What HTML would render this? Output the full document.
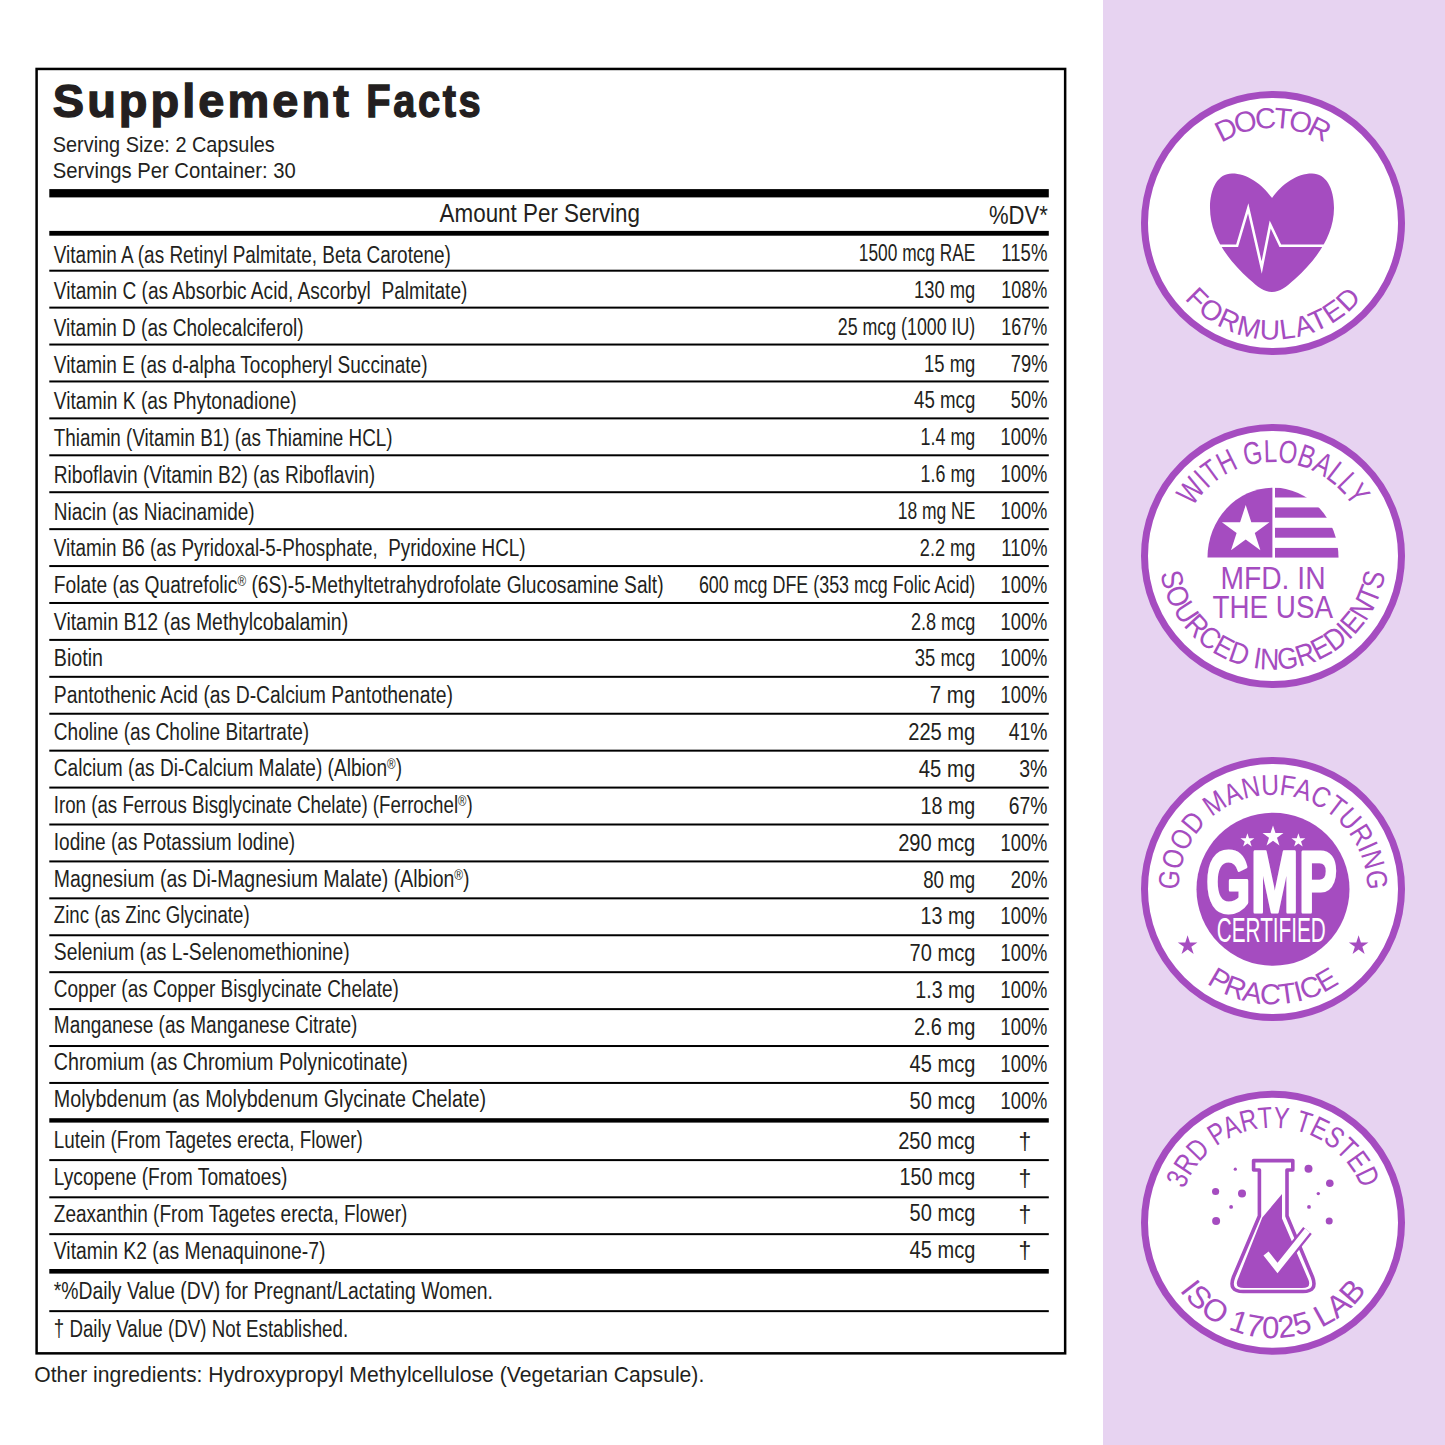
<!DOCTYPE html>
<html><head><meta charset="utf-8"><style>
html,body{margin:0;padding:0;background:#fff;}
body{width:1445px;height:1445px;overflow:hidden;position:relative;}
svg{position:absolute;left:0;top:0;}
text{font-family:"Liberation Sans",sans-serif;}
</style></head><body>
<svg width="1445" height="1445" viewBox="0 0 1445 1445">
<defs><path id="p1" d="M 1178 223 A 95 95 0 0 1 1368 223"/>
<path id="p2" d="M 1156.5 223 A 116.5 116.5 0 0 0 1389.5 223"/>
<clipPath id="hc"><rect x="1219" y="150" width="105" height="150"/></clipPath>
<path id="p3" d="M 1179 556 A 94 94 0 0 1 1367 556"/>
<path id="p4" d="M 1159.4 556 A 113.6 113.6 0 0 0 1386.6 556"/>
<clipPath id="fl"><ellipse cx="1273" cy="557.6" rx="65.5" ry="70"/></clipPath>
<path id="p5" d="M 1178.8 889 A 94.2 94.2 0 0 1 1367.2 889"/>
<path id="p6" d="M 1157.6 889 A 115.4 115.4 0 0 0 1388.4 889"/>
<path id="p7" d="M 1178 1222.7 A 95 95 0 0 1 1368 1222.7"/>
<path id="p8" d="M 1157.5 1222.7 A 115.5 115.5 0 0 0 1388.5 1222.7"/></defs>
<rect x="1103" y="0" width="342" height="1445" fill="#e7d3f1"/>
<rect x="36.6" y="68.95" width="1028.55" height="1284.4" fill="none" stroke="#000" stroke-width="2.5"/>
<g font-size="46.5" font-weight="bold" fill="#231f20" stroke="#231f20" stroke-width="1.3" letter-spacing="3"><text x="52.8" y="117.3" textLength="299" lengthAdjust="spacingAndGlyphs">Supplement</text><text x="366.3" y="117.3" textLength="117" lengthAdjust="spacingAndGlyphs">Facts</text></g>
<g fill="#231f20" font-size="22">
<text x="52.8" y="152.4" textLength="222" lengthAdjust="spacingAndGlyphs">Serving Size: 2 Capsules</text>
<text x="52.8" y="177.6" textLength="243" lengthAdjust="spacingAndGlyphs">Servings Per Container: 30</text>
</g>
<g fill="#231f20" font-size="25.5">
<text x="439.6" y="221.6" textLength="200.4" lengthAdjust="spacingAndGlyphs">Amount Per Serving</text>
<text x="989" y="224" textLength="58.8" lengthAdjust="spacingAndGlyphs">%DV*</text>
</g>
<g fill="#000"><rect x="49.3" y="189.10" width="999.5" height="8.3"/>
<rect x="49.3" y="230.90" width="999.5" height="4.8"/>
<rect x="49.3" y="269.70" width="999.5" height="2"/>
<rect x="49.3" y="306.62" width="999.5" height="2"/>
<rect x="49.3" y="343.54" width="999.5" height="2"/>
<rect x="49.3" y="380.46" width="999.5" height="2"/>
<rect x="49.3" y="417.38" width="999.5" height="2"/>
<rect x="49.3" y="454.30" width="999.5" height="2"/>
<rect x="49.3" y="491.22" width="999.5" height="2"/>
<rect x="49.3" y="528.14" width="999.5" height="2"/>
<rect x="49.3" y="565.06" width="999.5" height="2"/>
<rect x="49.3" y="601.98" width="999.5" height="2"/>
<rect x="49.3" y="638.90" width="999.5" height="2"/>
<rect x="49.3" y="675.82" width="999.5" height="2"/>
<rect x="49.3" y="712.74" width="999.5" height="2"/>
<rect x="49.3" y="749.66" width="999.5" height="2"/>
<rect x="49.3" y="786.58" width="999.5" height="2"/>
<rect x="49.3" y="823.50" width="999.5" height="2"/>
<rect x="49.3" y="860.42" width="999.5" height="2"/>
<rect x="49.3" y="897.34" width="999.5" height="2"/>
<rect x="49.3" y="934.26" width="999.5" height="2"/>
<rect x="49.3" y="971.18" width="999.5" height="2"/>
<rect x="49.3" y="1008.10" width="999.5" height="2"/>
<rect x="49.3" y="1045.02" width="999.5" height="2"/>
<rect x="49.3" y="1081.94" width="999.5" height="2"/>
<rect x="49.3" y="1118.20" width="999.5" height="4.4"/>
<rect x="49.3" y="1159.10" width="999.5" height="2"/>
<rect x="49.3" y="1196.30" width="999.5" height="2"/>
<rect x="49.3" y="1233.15" width="999.5" height="2"/>
<rect x="49.3" y="1269.00" width="999.5" height="4.6"/>
<rect x="49.3" y="1310.15" width="999.5" height="2"/></g>
<g fill="#231f20" font-size="23">
<text x="53.8" y="262.6" textLength="397.1" lengthAdjust="spacingAndGlyphs">Vitamin A (as Retinyl Palmitate, Beta Carotene)</text>
<text x="858.8" y="260.9" textLength="116.5" lengthAdjust="spacingAndGlyphs">1500 mcg RAE</text>
<text x="1001.3" y="260.9" textLength="46.1" lengthAdjust="spacingAndGlyphs">115%</text>
<text x="53.8" y="299.3" textLength="413.6" lengthAdjust="spacingAndGlyphs">Vitamin C (as Absorbic Acid, Ascorbyl  Palmitate)</text>
<text x="914" y="297.8" textLength="61.3" lengthAdjust="spacingAndGlyphs">130 mg</text>
<text x="1001.3" y="297.8" textLength="46.1" lengthAdjust="spacingAndGlyphs">108%</text>
<text x="53.8" y="336.0" textLength="249.8" lengthAdjust="spacingAndGlyphs">Vitamin D (as Cholecalciferol)</text>
<text x="837.8" y="334.6" textLength="137.5" lengthAdjust="spacingAndGlyphs">25 mcg (1000 IU)</text>
<text x="1001.3" y="334.6" textLength="46.1" lengthAdjust="spacingAndGlyphs">167%</text>
<text x="53.8" y="372.7" textLength="373.7" lengthAdjust="spacingAndGlyphs">Vitamin E (as d-alpha Tocopheryl Succinate)</text>
<text x="924" y="371.5" textLength="51.3" lengthAdjust="spacingAndGlyphs">15 mg</text>
<text x="1010.8" y="371.5" textLength="36.6" lengthAdjust="spacingAndGlyphs">79%</text>
<text x="53.8" y="409.4" textLength="242.9" lengthAdjust="spacingAndGlyphs">Vitamin K (as Phytonadione)</text>
<text x="914" y="408.3" textLength="61.3" lengthAdjust="spacingAndGlyphs">45 mcg</text>
<text x="1010.8" y="408.3" textLength="36.6" lengthAdjust="spacingAndGlyphs">50%</text>
<text x="53.8" y="446.1" textLength="338.8" lengthAdjust="spacingAndGlyphs">Thiamin (Vitamin B1) (as Thiamine HCL)</text>
<text x="920.6" y="445.2" textLength="54.7" lengthAdjust="spacingAndGlyphs">1.4 mg</text>
<text x="1000.5" y="445.2" textLength="46.9" lengthAdjust="spacingAndGlyphs">100%</text>
<text x="53.8" y="482.8" textLength="321.4" lengthAdjust="spacingAndGlyphs">Riboflavin (Vitamin B2) (as Riboflavin)</text>
<text x="920.6" y="482.1" textLength="54.7" lengthAdjust="spacingAndGlyphs">1.6 mg</text>
<text x="1000.5" y="482.1" textLength="46.9" lengthAdjust="spacingAndGlyphs">100%</text>
<text x="53.8" y="519.5" textLength="200.9" lengthAdjust="spacingAndGlyphs">Niacin (as Niacinamide)</text>
<text x="897.7" y="518.9" textLength="77.6" lengthAdjust="spacingAndGlyphs">18 mg NE</text>
<text x="1000.5" y="518.9" textLength="46.9" lengthAdjust="spacingAndGlyphs">100%</text>
<text x="53.8" y="556.2" textLength="471.8" lengthAdjust="spacingAndGlyphs">Vitamin B6 (as Pyridoxal-5-Phosphate,  Pyridoxine HCL)</text>
<text x="919.8" y="555.8" textLength="55.5" lengthAdjust="spacingAndGlyphs">2.2 mg</text>
<text x="1001.3" y="555.8" textLength="46.1" lengthAdjust="spacingAndGlyphs">110%</text>
<text x="53.8" y="592.9" textLength="609.8" lengthAdjust="spacingAndGlyphs">Folate (as Quatrefolic<tspan font-size="14" dy="-7">®</tspan><tspan dy="7"> (6S)-5-Methyltetrahydrofolate Glucosamine Salt)</tspan></text>
<text x="698.9" y="592.6" textLength="276.4" lengthAdjust="spacingAndGlyphs">600 mcg DFE (353 mcg Folic Acid)</text>
<text x="1000.5" y="592.6" textLength="46.9" lengthAdjust="spacingAndGlyphs">100%</text>
<text x="53.8" y="629.6" textLength="294.3" lengthAdjust="spacingAndGlyphs">Vitamin B12 (as Methylcobalamin)</text>
<text x="910.9" y="629.5" textLength="64.4" lengthAdjust="spacingAndGlyphs">2.8 mcg</text>
<text x="1000.5" y="629.5" textLength="46.9" lengthAdjust="spacingAndGlyphs">100%</text>
<text x="53.8" y="666.3" textLength="49.2" lengthAdjust="spacingAndGlyphs">Biotin</text>
<text x="914.8" y="666.4" textLength="60.5" lengthAdjust="spacingAndGlyphs">35 mcg</text>
<text x="1000.5" y="666.4" textLength="46.9" lengthAdjust="spacingAndGlyphs">100%</text>
<text x="53.8" y="703.0" textLength="399.2" lengthAdjust="spacingAndGlyphs">Pantothenic Acid (as D-Calcium Pantothenate)</text>
<text x="929.8" y="703.2" textLength="45.5" lengthAdjust="spacingAndGlyphs">7 mg</text>
<text x="1000.5" y="703.2" textLength="46.9" lengthAdjust="spacingAndGlyphs">100%</text>
<text x="53.8" y="739.7" textLength="255.4" lengthAdjust="spacingAndGlyphs">Choline (as Choline Bitartrate)</text>
<text x="908.2" y="740.1" textLength="67.1" lengthAdjust="spacingAndGlyphs">225 mg</text>
<text x="1008.7" y="740.1" textLength="38.7" lengthAdjust="spacingAndGlyphs">41%</text>
<text x="53.8" y="776.4" textLength="348.2" lengthAdjust="spacingAndGlyphs">Calcium (as Di-Calcium Malate) (Albion<tspan font-size="14" dy="-7">®</tspan><tspan dy="7">)</tspan></text>
<text x="918.8" y="776.9" textLength="56.5" lengthAdjust="spacingAndGlyphs">45 mg</text>
<text x="1019.2" y="776.9" textLength="28.2" lengthAdjust="spacingAndGlyphs">3%</text>
<text x="53.8" y="813.1" textLength="418.9" lengthAdjust="spacingAndGlyphs">Iron (as Ferrous Bisglycinate Chelate) (Ferrochel<tspan font-size="14" dy="-7">®</tspan><tspan dy="7">)</tspan></text>
<text x="920.6" y="813.8" textLength="54.7" lengthAdjust="spacingAndGlyphs">18 mg</text>
<text x="1008.7" y="813.8" textLength="38.7" lengthAdjust="spacingAndGlyphs">67%</text>
<text x="53.8" y="849.8" textLength="241.4" lengthAdjust="spacingAndGlyphs">Iodine (as Potassium Iodine)</text>
<text x="898.2" y="850.7" textLength="77.1" lengthAdjust="spacingAndGlyphs">290 mcg</text>
<text x="1000.5" y="850.7" textLength="46.9" lengthAdjust="spacingAndGlyphs">100%</text>
<text x="53.8" y="886.5" textLength="415.8" lengthAdjust="spacingAndGlyphs">Magnesium (as Di-Magnesium Malate) (Albion<tspan font-size="14" dy="-7">®</tspan><tspan dy="7">)</tspan></text>
<text x="923.2" y="887.5" textLength="52.1" lengthAdjust="spacingAndGlyphs">80 mg</text>
<text x="1010.8" y="887.5" textLength="36.6" lengthAdjust="spacingAndGlyphs">20%</text>
<text x="53.8" y="923.2" textLength="195.8" lengthAdjust="spacingAndGlyphs">Zinc (as Zinc Glycinate)</text>
<text x="920.6" y="924.4" textLength="54.7" lengthAdjust="spacingAndGlyphs">13 mg</text>
<text x="1000.5" y="924.4" textLength="46.9" lengthAdjust="spacingAndGlyphs">100%</text>
<text x="53.8" y="959.9" textLength="295.9" lengthAdjust="spacingAndGlyphs">Selenium (as L-Selenomethionine)</text>
<text x="909.6" y="961.2" textLength="65.7" lengthAdjust="spacingAndGlyphs">70 mcg</text>
<text x="1000.5" y="961.2" textLength="46.9" lengthAdjust="spacingAndGlyphs">100%</text>
<text x="53.8" y="996.6" textLength="345.1" lengthAdjust="spacingAndGlyphs">Copper (as Copper Bisglycinate Chelate)</text>
<text x="915.3" y="998.1" textLength="60.0" lengthAdjust="spacingAndGlyphs">1.3 mg</text>
<text x="1000.5" y="998.1" textLength="46.9" lengthAdjust="spacingAndGlyphs">100%</text>
<text x="53.8" y="1033.3" textLength="303.6" lengthAdjust="spacingAndGlyphs">Manganese (as Manganese Citrate)</text>
<text x="914" y="1035.0" textLength="61.3" lengthAdjust="spacingAndGlyphs">2.6 mg</text>
<text x="1000.5" y="1035.0" textLength="46.9" lengthAdjust="spacingAndGlyphs">100%</text>
<text x="53.8" y="1070.0" textLength="354.1" lengthAdjust="spacingAndGlyphs">Chromium (as Chromium Polynicotinate)</text>
<text x="909.6" y="1071.8" textLength="65.7" lengthAdjust="spacingAndGlyphs">45 mcg</text>
<text x="1000.5" y="1071.8" textLength="46.9" lengthAdjust="spacingAndGlyphs">100%</text>
<text x="53.8" y="1106.7" textLength="432.2" lengthAdjust="spacingAndGlyphs">Molybdenum (as Molybdenum Glycinate Chelate)</text>
<text x="909.6" y="1108.7" textLength="65.7" lengthAdjust="spacingAndGlyphs">50 mcg</text>
<text x="1000.5" y="1108.7" textLength="46.9" lengthAdjust="spacingAndGlyphs">100%</text>
<text x="53.8" y="1148.4" textLength="308.9" lengthAdjust="spacingAndGlyphs">Lutein (From Tagetes erecta, Flower)</text>
<text x="898.2" y="1148.6" textLength="77.1" lengthAdjust="spacingAndGlyphs">250 mcg</text>
<text x="1025" y="1150.1" text-anchor="middle">†</text>
<text x="53.8" y="1185.3" textLength="233.6" lengthAdjust="spacingAndGlyphs">Lycopene (From Tomatoes)</text>
<text x="899.5" y="1185.0" textLength="75.8" lengthAdjust="spacingAndGlyphs">150 mcg</text>
<text x="1025" y="1186.5" text-anchor="middle">†</text>
<text x="53.8" y="1222.2" textLength="353.5" lengthAdjust="spacingAndGlyphs">Zeaxanthin (From Tagetes erecta, Flower)</text>
<text x="909.6" y="1221.4" textLength="65.7" lengthAdjust="spacingAndGlyphs">50 mcg</text>
<text x="1025" y="1222.9" text-anchor="middle">†</text>
<text x="53.8" y="1259.1" textLength="271.6" lengthAdjust="spacingAndGlyphs">Vitamin K2 (as Menaquinone-7)</text>
<text x="909.6" y="1257.8" textLength="65.7" lengthAdjust="spacingAndGlyphs">45 mcg</text>
<text x="1025" y="1259.3" text-anchor="middle">†</text>
<text x="53.8" y="1299.4" textLength="439.1" lengthAdjust="spacingAndGlyphs">*%Daily Value (DV) for Pregnant/Lactating Women.</text>
<text x="53.8" y="1337.1" textLength="294.3" lengthAdjust="spacingAndGlyphs">† Daily Value (DV) Not Established.</text>
</g>
<text x="34.3" y="1382.2" font-size="21.5" fill="#231f20" textLength="670" lengthAdjust="spacingAndGlyphs">Other ingredients: Hydroxypropyl Methylcellulose (Vegetarian Capsule).</text>
<circle cx="1273" cy="223" r="128.5" fill="#fff" stroke="#a54cc0" stroke-width="7"/>
<text font-size="29" fill="#a54cc0" ><textPath href="#p1" startOffset="50%" text-anchor="middle" textLength="109" lengthAdjust="spacing">DOCTOR</textPath></text>
<text font-size="28" fill="#a54cc0" ><textPath href="#p2" startOffset="50%" text-anchor="middle" textLength="201" lengthAdjust="spacing">FORMULATED</textPath></text>
<path d="M1272 198 C1262 184 1247 173.5 1232 173.5 C1218 173.5 1210 188 1210 208 C1210 236 1228 260 1249 279 C1258 287 1264 292 1272 292 C1280 292 1286 287 1295 279 C1316 260 1334 236 1334 208 C1334 188 1326 173.5 1312 173.5 C1297 173.5 1282 184 1272 198 Z" fill="#a54cc0"/>
<polyline points="1215,245.8 1237.1,245.8 1248.2,208.3 1261.7,267.5 1270.2,224.5 1280.3,245.8 1330,245.8" fill="none" stroke="#fff" stroke-width="2.6" stroke-linejoin="miter" stroke-miterlimit="10" clip-path="url(#hc)"/>
<circle cx="1273" cy="556" r="128.5" fill="#fff" stroke="#a54cc0" stroke-width="7"/>
<text font-size="32" fill="#a54cc0" ><textPath href="#p3" startOffset="50%" text-anchor="middle" textLength="192" lengthAdjust="spacingAndGlyphs">WITH GLOBALLY</textPath></text>
<text font-size="30" fill="#a54cc0" ><textPath href="#p4" startOffset="50%" text-anchor="middle" textLength="322" lengthAdjust="spacingAndGlyphs">SOURCED INGREDIENTS</textPath></text>
<path d="M1207.5 557.6 A65.5 70 0 0 1 1272.4 487.7 L1272.4 557.6 Z" fill="#a54cc0"/>
<polygon points="1245.70,505.00 1251.31,522.27 1269.48,522.27 1254.78,532.95 1260.39,550.23 1245.70,539.55 1231.01,550.23 1236.62,532.95 1221.92,522.27 1240.09,522.27" fill="#fff"/>
<g clip-path="url(#fl)" fill="#a54cc0"><rect x="1275" y="487.7" width="80" height="9.8"/><rect x="1275" y="507.4" width="80" height="10.3"/><rect x="1275" y="527.8" width="80" height="9.9"/><rect x="1275" y="547.9" width="80" height="9.7"/></g>
<text x="1220.5" y="588.8" font-size="32" fill="#a54cc0" textLength="105" lengthAdjust="spacingAndGlyphs">MFD. IN</text>
<text x="1212.5" y="617.8" font-size="32" fill="#a54cc0" textLength="120.5" lengthAdjust="spacingAndGlyphs">THE USA</text>
<circle cx="1273" cy="889" r="128.5" fill="#fff" stroke="#a54cc0" stroke-width="7"/>
<circle cx="1273" cy="889.2" r="76.5" fill="#a54cc0"/>
<polygon points="1273.00,825.50 1275.47,833.10 1283.46,833.10 1277.00,837.80 1279.47,845.40 1273.00,840.70 1266.53,845.40 1269.00,837.80 1262.54,833.10 1270.53,833.10" fill="#fff"/>
<polygon points="1247.40,833.30 1249.04,838.34 1254.34,838.34 1250.05,841.46 1251.69,846.51 1247.40,843.39 1243.11,846.51 1244.75,841.46 1240.46,838.34 1245.76,838.34" fill="#fff"/>
<polygon points="1298.40,833.30 1300.04,838.34 1305.34,838.34 1301.05,841.46 1302.69,846.51 1298.40,843.39 1294.11,846.51 1295.75,841.46 1291.46,838.34 1296.76,838.34" fill="#fff"/>
<polygon points="1187.60,935.30 1189.91,942.42 1197.40,942.42 1191.34,946.82 1193.65,953.93 1187.60,949.53 1181.55,953.93 1183.86,946.82 1177.80,942.42 1185.29,942.42" fill="#a54cc0"/>
<polygon points="1358.60,935.30 1360.91,942.42 1368.40,942.42 1362.34,946.82 1364.65,953.93 1358.60,949.53 1352.55,953.93 1354.86,946.82 1348.80,942.42 1356.29,942.42" fill="#a54cc0"/>
<text x="1206" y="912" font-size="88" font-weight="bold" fill="#fff" stroke="#fff" stroke-width="3.2" stroke-linejoin="round" textLength="131" lengthAdjust="spacingAndGlyphs">GMP</text>
<text x="1216.8" y="941.8" font-size="35" fill="#fff" textLength="109" lengthAdjust="spacingAndGlyphs">CERTIFIED</text>
<text font-size="29" fill="#a54cc0" ><textPath href="#p5" startOffset="50%" text-anchor="middle" textLength="297" lengthAdjust="spacingAndGlyphs">GOOD MANUFACTURING</textPath></text>
<text font-size="29" fill="#a54cc0" ><textPath href="#p6" startOffset="50%" text-anchor="middle" textLength="142" lengthAdjust="spacing">PRACTICE</textPath></text>
<circle cx="1273" cy="1222.7" r="128.5" fill="#fff" stroke="#a54cc0" stroke-width="7"/>
<text font-size="30" fill="#a54cc0" ><textPath href="#p7" startOffset="50%" text-anchor="middle" textLength="229" lengthAdjust="spacingAndGlyphs">3RD PARTY TESTED</textPath></text>
<text font-size="31" fill="#a54cc0" ><textPath href="#p8" startOffset="50%" text-anchor="middle" textLength="218" lengthAdjust="spacingAndGlyphs">ISO 17025 LAB</textPath></text>
<path d="M1253.6 1160.6 H1292.8 V1170 H1287 V1216 L1312.5 1277 Q1318 1291.5 1303 1291.5 H1243 Q1228 1291.5 1233.5 1277 L1259.4 1216 V1170 H1253.6 Z" fill="none" stroke="#a54cc0" stroke-width="3.6" stroke-linejoin="round"/>
<path d="M1262.3 1217.5 L1282 1194 V1218.5 L1308.5 1280 Q1311.5 1288 1302 1288 H1244 Q1234.5 1288 1237.5 1280 Z" fill="#a54cc0"/>
<polyline points="1266,1253.5 1277.5,1268 1307.5,1230.5" fill="none" stroke="#a54cc0" stroke-width="11" stroke-linejoin="miter" stroke-linecap="butt"/>
<polyline points="1266,1253.5 1277.5,1268 1307.5,1230.5" fill="none" stroke="#fff" stroke-width="6.5" stroke-linejoin="miter" stroke-linecap="butt"/>
<circle cx="1235.3" cy="1169.2" r="1.6" fill="#a54cc0"/>
<circle cx="1308.5" cy="1168.7" r="4" fill="#a54cc0"/>
<circle cx="1215.6" cy="1191.5" r="3.6" fill="#a54cc0"/>
<circle cx="1242" cy="1193.6" r="4" fill="#a54cc0"/>
<circle cx="1329.8" cy="1183.2" r="3.8" fill="#a54cc0"/>
<circle cx="1318.3" cy="1193.6" r="1.7" fill="#a54cc0"/>
<circle cx="1231.1" cy="1206.9" r="1.9" fill="#a54cc0"/>
<circle cx="1309" cy="1206.9" r="1.9" fill="#a54cc0"/>
<circle cx="1216.1" cy="1221.1" r="4" fill="#a54cc0"/>
<circle cx="1329.2" cy="1221.1" r="3.5" fill="#a54cc0"/>
</svg>
</body></html>
